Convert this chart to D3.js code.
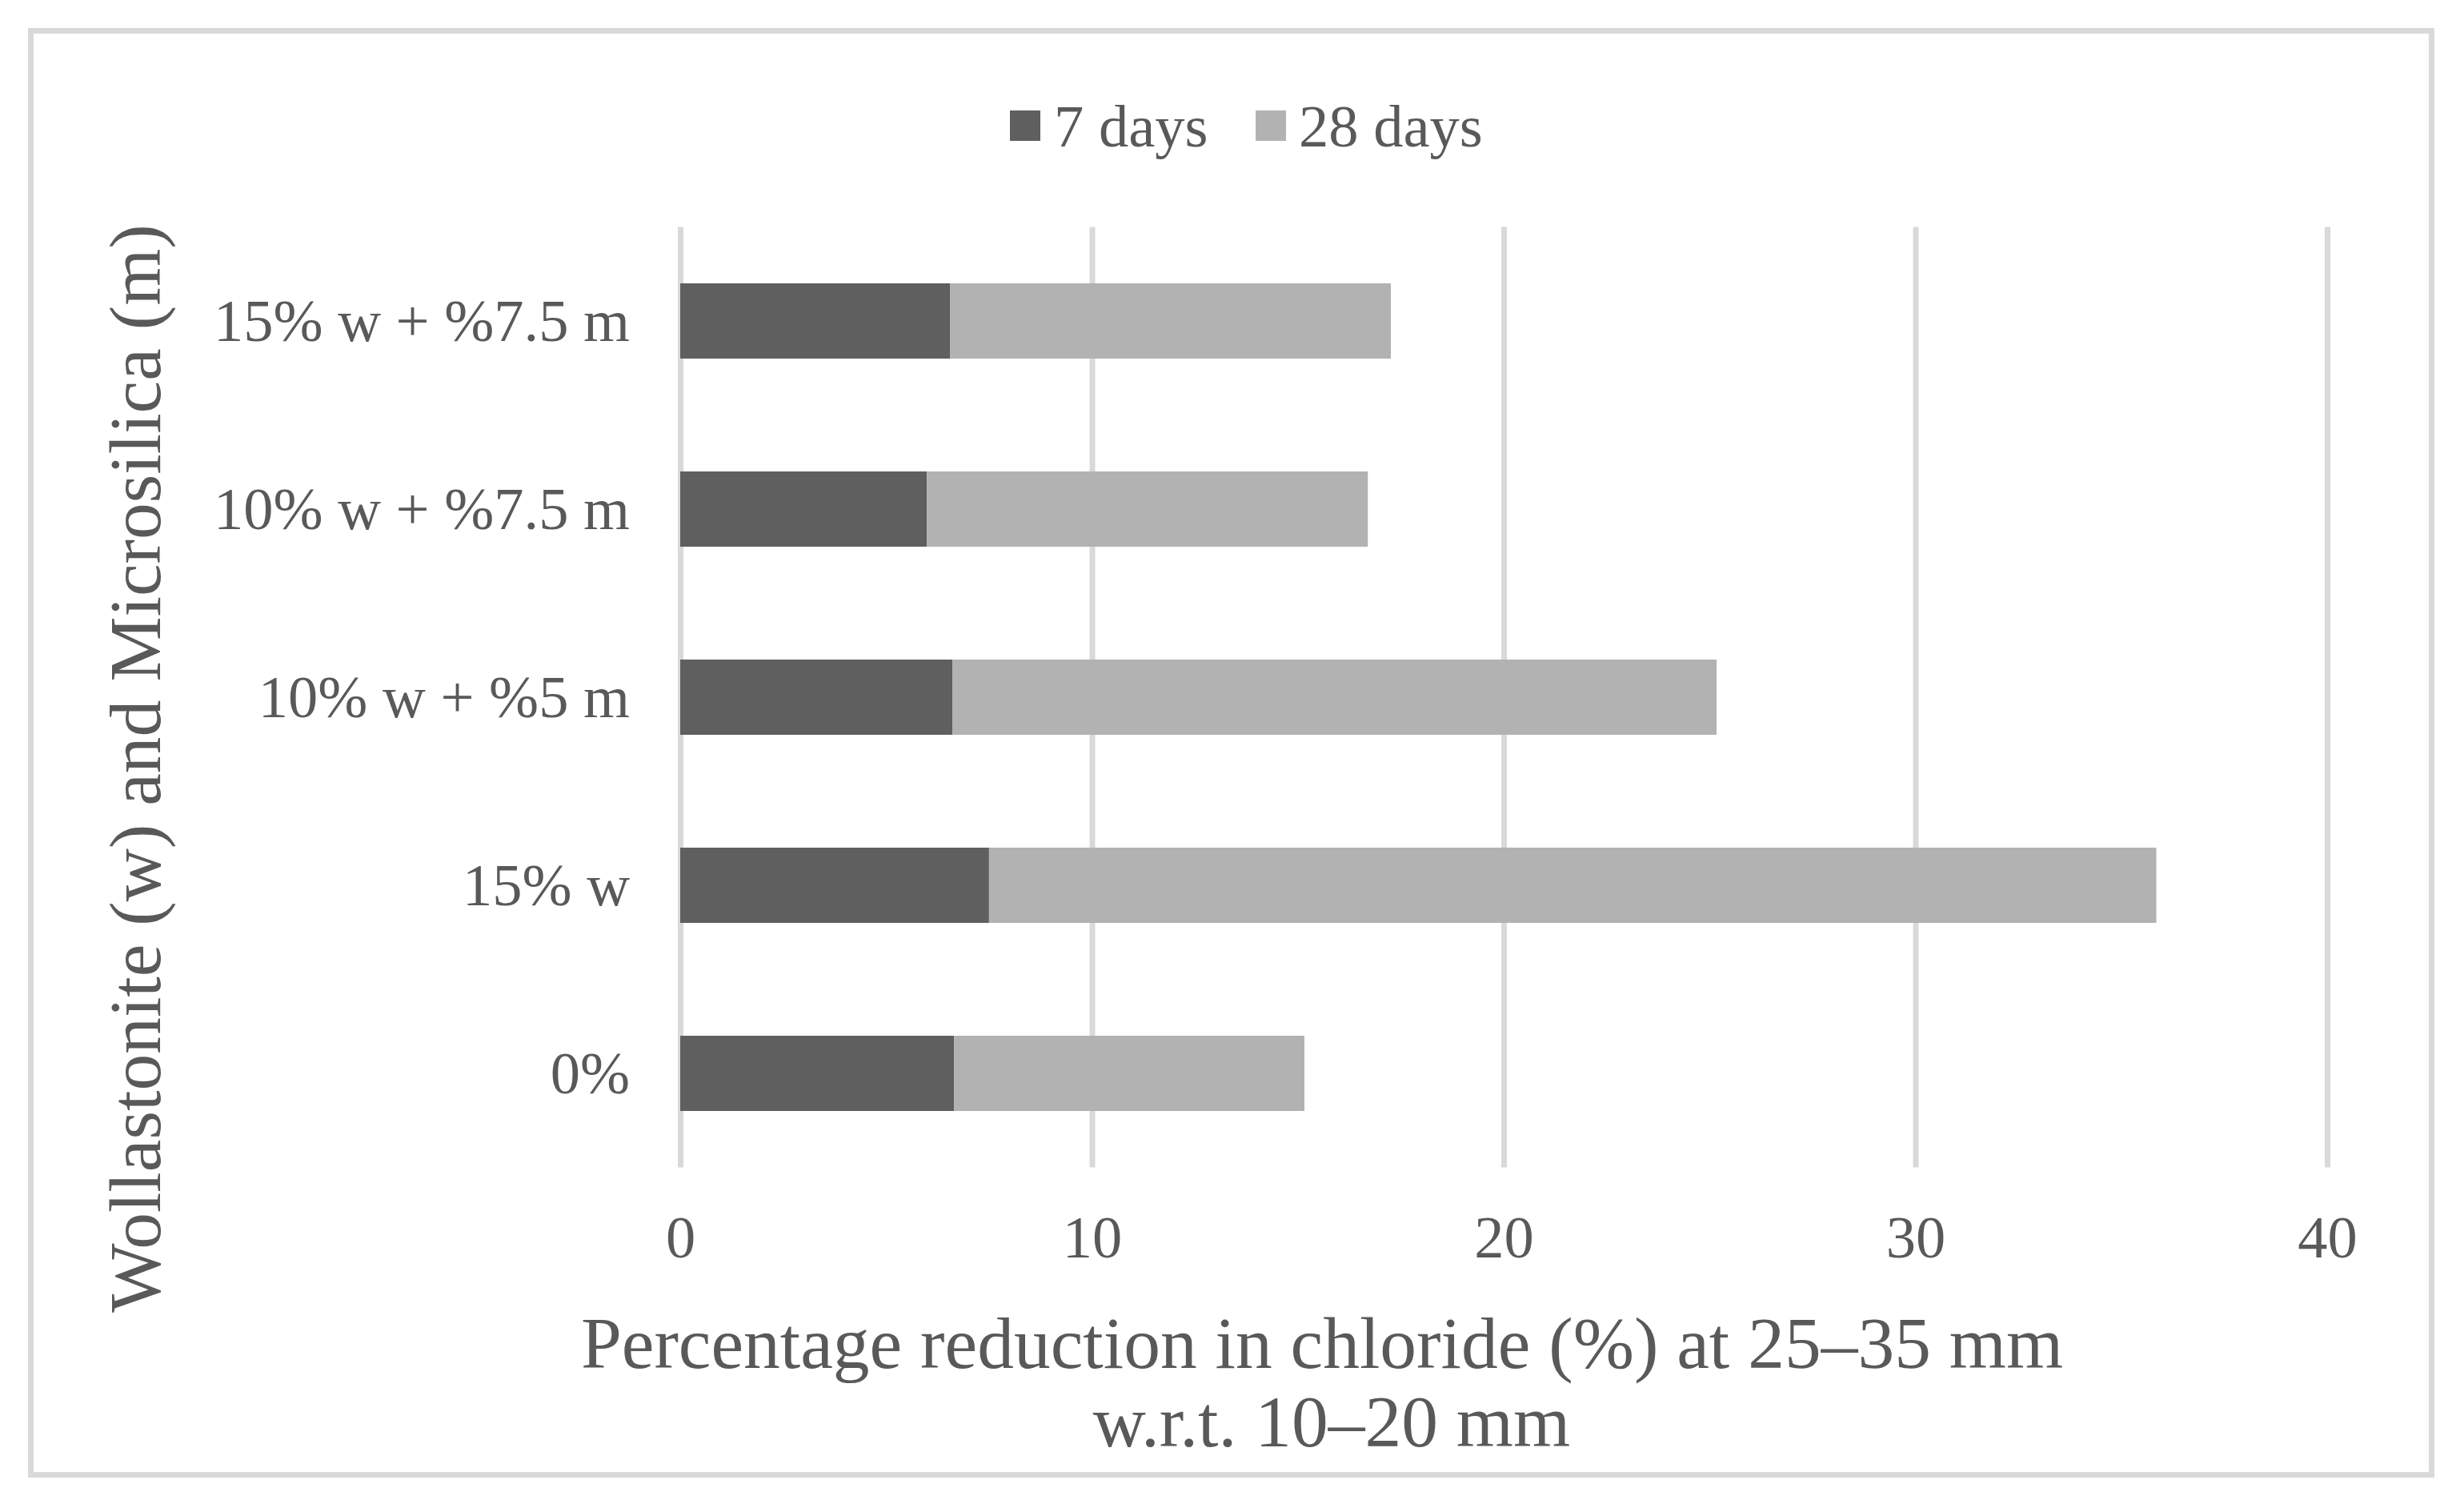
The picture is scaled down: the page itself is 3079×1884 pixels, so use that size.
<!DOCTYPE html>
<html>
<head>
<meta charset="utf-8">
<script src="https://cdn.jsdelivr.net/npm/d3@7"></script>
<style>
  body { margin: 0; background: #fff; }
  text { font-family: "Liberation Serif", "Times New Roman", serif; fill: #595959; }
</style>
</head>
<body>
<div id="chart"></div>
<script>
// categories, bottom to top as in the sheet
var categories = ["0%", "15% w", "10% w + %5 m", "10% w + %7.5 m", "15% w + %7.5 m"];
var days7 = [6.65, 7.50, 6.61, 5.99, 6.55];
var days28 = [8.51, 28.35, 18.56, 10.71, 10.71];
var seriesNames = ["7 days", "28 days"];
var xTicks = [0, 10, 20, 30, 40];

var svgWidth = 3079;
var svgHeight = 1884;

var margin = { top: 283.5, right: 171, bottom: 425.5, left: 850 };
var width = svgWidth - margin.left - margin.right;
var height = svgHeight - margin.top - margin.bottom;

var colors = ["#5f5f5f", "#b2b2b2"];
var gridColor = "#d9d9d9";
var labelSize = 74.5;
var titleSize = 91.5;

var svg = d3.select("#chart")
  .append("svg")
  .attr("width", svgWidth)
  .attr("height", svgHeight);

// chart border
svg.append("rect")
  .attr("x", 38.5)
  .attr("y", 38.5)
  .attr("width", 3000)
  .attr("height", 1804)
  .attr("fill", "#fff")
  .attr("stroke", gridColor)
  .attr("stroke-width", 7);

var chartGroup = svg.append("g")
  .attr("transform", `translate(${margin.left}, ${margin.top})`);

var rows = categories.map(function(c, i) {
  return { cat: c, "7 days": days7[i], "28 days": days28[i] };
});

var xScale = d3.scaleLinear()
  .domain([0, 40])
  .range([0, width]);

var yScale = d3.scaleBand()
  .domain(categories.slice().reverse())
  .range([0, height])
  .paddingInner(0.6)
  .paddingOuter(0.3);

// gridlines
chartGroup.append("g")
  .call(d3.axisBottom(xScale).tickValues(xTicks).tickSize(height).tickFormat(""))
  .call(g => g.select(".domain").remove())
  .selectAll("line")
  .attr("stroke", gridColor)
  .attr("stroke-width", 7);

// stacked bars
var stack = d3.stack().keys(seriesNames);
var layers = stack(rows);

chartGroup.selectAll(".layer")
  .data(layers)
  .enter()
  .append("g")
  .attr("class", "layer")
  .attr("fill", (d, i) => colors[i])
  .selectAll("rect")
  .data(d => d)
  .enter()
  .append("rect")
  .attr("x", d => xScale(d[0]))
  .attr("width", d => xScale(d[1]) - xScale(d[0]))
  .attr("y", d => yScale(d.data.cat))
  .attr("height", yScale.bandwidth());

// x axis labels
var bottomAxis = d3.axisBottom(xScale).tickValues(xTicks).tickSize(0).tickPadding(0);
chartGroup.append("g")
  .attr("transform", `translate(0, ${height})`)
  .call(bottomAxis)
  .call(g => g.select(".domain").remove())
  .selectAll("text")
  .attr("dy", null)
  .attr("y", 112.5)
  .attr("font-size", labelSize)
  .style("font-family", "Liberation Serif")
  .attr("fill", "#595959");

// y axis labels
var leftAxis = d3.axisLeft(yScale).tickSize(0).tickPadding(63);
chartGroup.append("g")
  .call(leftAxis)
  .call(g => g.select(".domain").remove())
  .selectAll("text")
  .attr("dy", null)
  .attr("y", 24.5)
  .attr("font-size", labelSize)
  .style("font-family", "Liberation Serif")
  .attr("fill", "#595959");

// legend
var legendItems = [
  { name: seriesNames[0], sx: 1262, tx: 1317 },
  { name: seriesNames[1], sx: 1569, tx: 1623 }
];
var legend = svg.append("g");
legendItems.forEach(function(item, i) {
  legend.append("rect")
    .attr("x", item.sx)
    .attr("y", 138)
    .attr("width", 38)
    .attr("height", 38)
    .attr("fill", colors[i]);
  legend.append("text")
    .attr("x", item.tx)
    .attr("y", 183)
    .attr("font-size", labelSize)
    .text(item.name);
});

// axis titles
var xTitle = svg.append("text")
  .attr("text-anchor", "middle")
  .attr("font-size", titleSize);
xTitle.append("tspan")
  .attr("x", 1652)
  .attr("y", 1709)
  .text("Percentage reduction in chloride (%) at 25–35 mm");
xTitle.append("tspan")
  .attr("x", 1664)
  .attr("y", 1807)
  .text("w.r.t. 10–20 mm");

svg.append("text")
  .attr("transform", "translate(200, 960) rotate(-90)")
  .attr("text-anchor", "middle")
  .attr("font-size", titleSize)
  .text("Wollastonite (w) and Microsilica (m)");
</script>
</body>
</html>
